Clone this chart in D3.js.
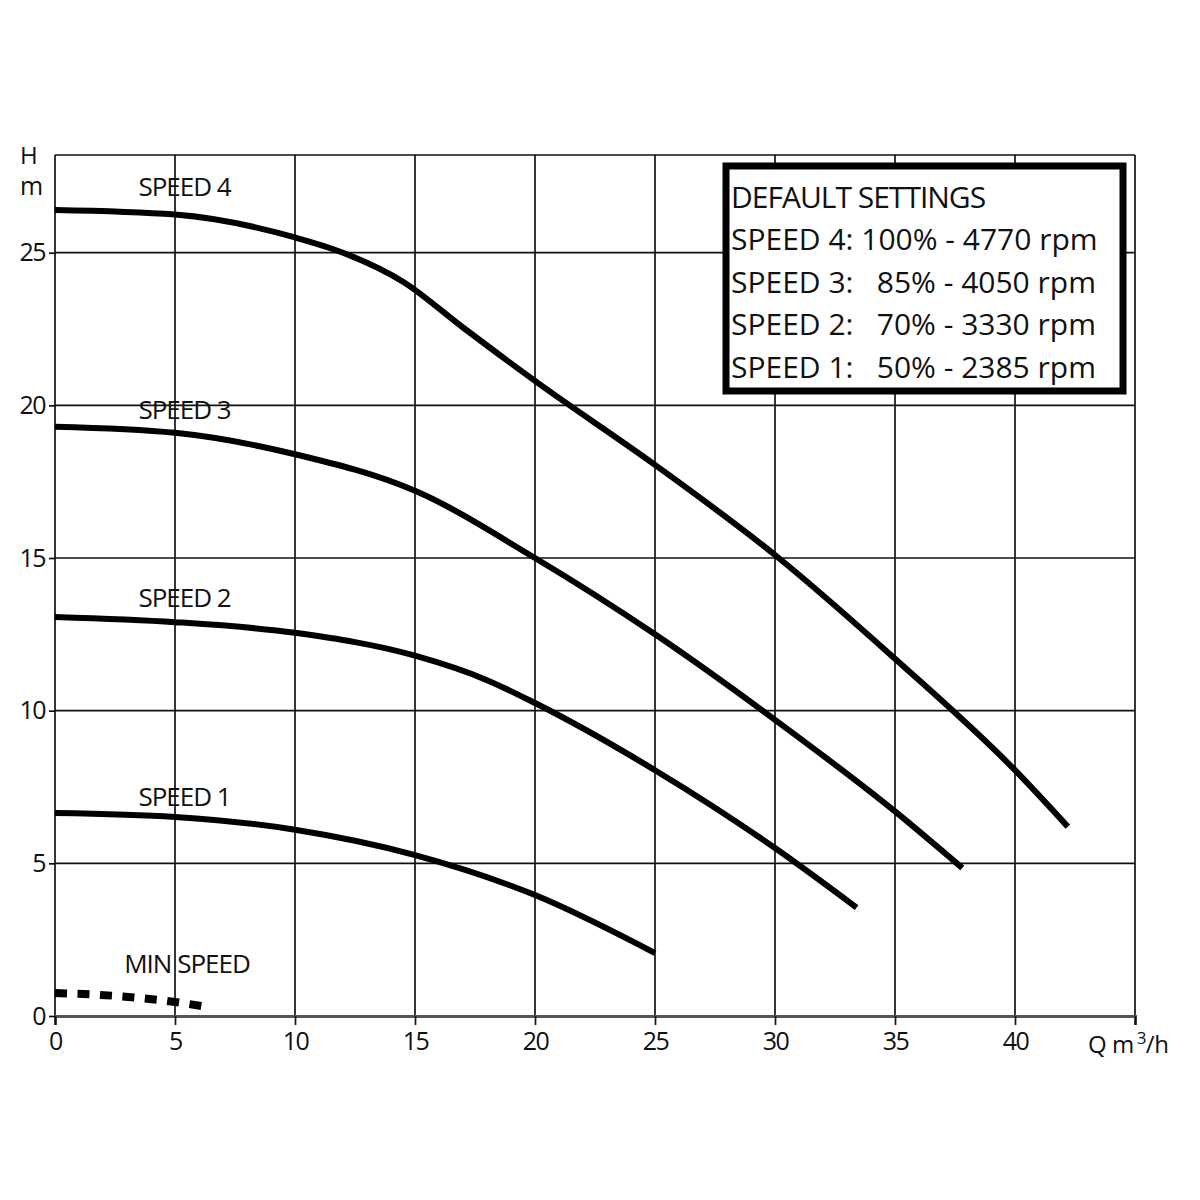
<!DOCTYPE html>
<html>
<head>
<meta charset="utf-8">
<script src="https://cdn.jsdelivr.net/npm/d3@7"></script>
<style>
  body { margin: 0; background: #fff; }
  text { font-family: "Open Sans", sans-serif; fill: #111; }
</style>
</head>
<body>
<script>
// chart size
var w = 1200;
var h = 1200;
var margin = { top: 155, right: 65, bottom: 184, left: 55 };

// flow (m3/h) and head (m)
var speed4Q = [0, 5, 10, 12, 14.5, 17, 20, 25, 30, 35, 40, 42.2];
var speed4H = [26.4, 26.25, 25.5, 25.0, 24.05, 22.55, 20.8, 18.05, 15.1, 11.7, 8.05, 6.2];
var speed3Q = [0, 5, 10, 15, 20, 25, 30, 35, 37.8];
var speed3H = [19.3, 19.1, 18.4, 17.2, 15.0, 12.5, 9.7, 6.7, 4.85];
var speed2Q = [0, 5, 10, 15, 18, 20, 25, 30, 33.4];
var speed2H = [13.07, 12.9, 12.55, 11.8, 11.0, 10.25, 8.05, 5.5, 3.55];
var speed1Q = [0, 5, 10, 15, 20, 25];
var speed1H = [6.65, 6.52, 6.1, 5.27, 3.96, 2.06];
var minQ = [0, 2.5, 5, 6.3];
var minH = [0.75, 0.66, 0.46, 0.3];

var curveNames = ['SPEED 4', 'SPEED 3', 'SPEED 2', 'SPEED 1', 'MIN SPEED'];
var labelQ = [5.4, 5.4, 5.4, 5.4, 5.5];
var labelH = [26.85, 19.55, 13.38, 6.87, 1.41];

var xTicks = [0, 5, 10, 15, 20, 25, 30, 35, 40];
var yTicks = [0, 5, 10, 15, 20, 25];

var legendLines = [
  'DEFAULT SETTINGS',
  'SPEED 4: 100% - 4770 rpm',
  'SPEED 3:   85% - 4050 rpm',
  'SPEED 2:   70% - 3330 rpm',
  'SPEED 1:   50% - 2385 rpm'
];

var series = [
  { q: speed4Q, h: speed4H, dash: null },
  { q: speed3Q, h: speed3H, dash: null },
  { q: speed2Q, h: speed2H, dash: null },
  { q: speed1Q, h: speed1H, dash: null },
  { q: minQ, h: minH, dash: '12,10.5' }
];

var svg = d3.select('body')
    .append('svg')
    .attr('width', w)
    .attr('height', h);

var x = d3.scaleLinear()
    .domain([0, 45])
    .range([margin.left, w - margin.right]);

var y = d3.scaleLinear()
    .domain([0, 28.2])
    .range([h - margin.bottom, margin.top]);

// grid
svg.selectAll('.vgrid')
    .data(xTicks.concat([45]))
    .enter()
    .append('line')
    .attr('x1', d => x(d))
    .attr('x2', d => x(d))
    .attr('y1', y(0))
    .attr('y2', y(28.2))
    .attr('stroke', '#111')
    .attr('stroke-width', 1.7);

svg.selectAll('.hgrid')
    .data(yTicks.slice(1).concat([28.2]))
    .enter()
    .append('line')
    .attr('x1', x(0))
    .attr('x2', x(45))
    .attr('y1', d => y(d))
    .attr('y2', d => y(d))
    .attr('stroke', '#111')
    .attr('stroke-width', 1.7);

// axes
var xAxis = d3.axisBottom(x)
    .tickValues(xTicks.concat([45]))
    .tickFormat(d => d === 45 ? '' : d)
    .tickSize(9)
    .tickPadding(7);

var yAxis = d3.axisLeft(y)
    .tickValues(yTicks)
    .tickSize(6)
    .tickPadding(4);

var gx = svg.append('g')
    .attr('transform', 'translate(0,' + y(0) + ')')
    .call(xAxis);
var gy = svg.append('g')
    .attr('transform', 'translate(' + x(0) + ',0)')
    .call(yAxis);

gx.select('.domain').attr('stroke', '#555').attr('stroke-width', 3);
gy.select('.domain').remove();
svg.selectAll('.tick line').attr('stroke', '#111').attr('stroke-width', 1.7);
svg.selectAll('.tick text')
    .attr('font-size', '25px')
    .attr('letter-spacing', '-1.5px')
    .attr('font-family', '"Open Sans", sans-serif')
    .attr('fill', '#111');

// axis titles
svg.append('text').attr('x', 20).attr('y', 164).attr('font-size', '24px').text('H');
svg.append('text').attr('x', 20).attr('y', 195).attr('font-size', '25px').text('m');
var qt = svg.append('text').attr('x', 1088).attr('y', 1053).attr('font-size', '24px')
    .attr('letter-spacing', '-0.5px');
qt.append('tspan').text('Q m');
qt.append('tspan').attr('dx', 3).attr('dy', -9).attr('font-size', '17px').text('3');
qt.append('tspan').attr('dy', 9).text('/h');

// curves
var line = d3.line()
    .x(d => x(d[0]))
    .y(d => y(d[1]))
    .curve(d3.curveMonotoneX);

svg.selectAll('.curve')
    .data(series)
    .enter()
    .append('path')
    .attr('d', s => line(s.q.map((q, i) => [q, s.h[i]])))
    .attr('fill', 'none')
    .attr('stroke', '#000')
    .attr('stroke-width', d => d.dash ? 8 : 6);

svg.selectAll('path').filter(d => d && d.dash)
    .attr('stroke-dasharray', d => d.dash);

// curve labels
svg.selectAll('.clabel')
    .data(curveNames)
    .enter()
    .append('text')
    .attr('x', (d, i) => x(labelQ[i]))
    .attr('y', (d, i) => y(labelH[i]))
    .attr('text-anchor', 'middle')
    .attr('font-size', '26px')
    .attr('letter-spacing', '-1px')
    .text(d => d);

// legend box
svg.append('rect')
    .attr('x', 726)
    .attr('y', 166)
    .attr('width', 397)
    .attr('height', 225)
    .attr('fill', '#fff')
    .attr('stroke', '#000')
    .attr('stroke-width', 7);

svg.selectAll('.legend')
    .data(legendLines)
    .enter()
    .append('text')
    .attr('x', 731)
    .attr('y', (d, i) => 208 + i * 42.4)
    .attr('font-size', '30px')
    .attr('letter-spacing', (d, i) => i === 0 ? '-1px' : '0px')
    .style('white-space', 'pre')
    .text(d => d);
</script>
</body>
</html>
